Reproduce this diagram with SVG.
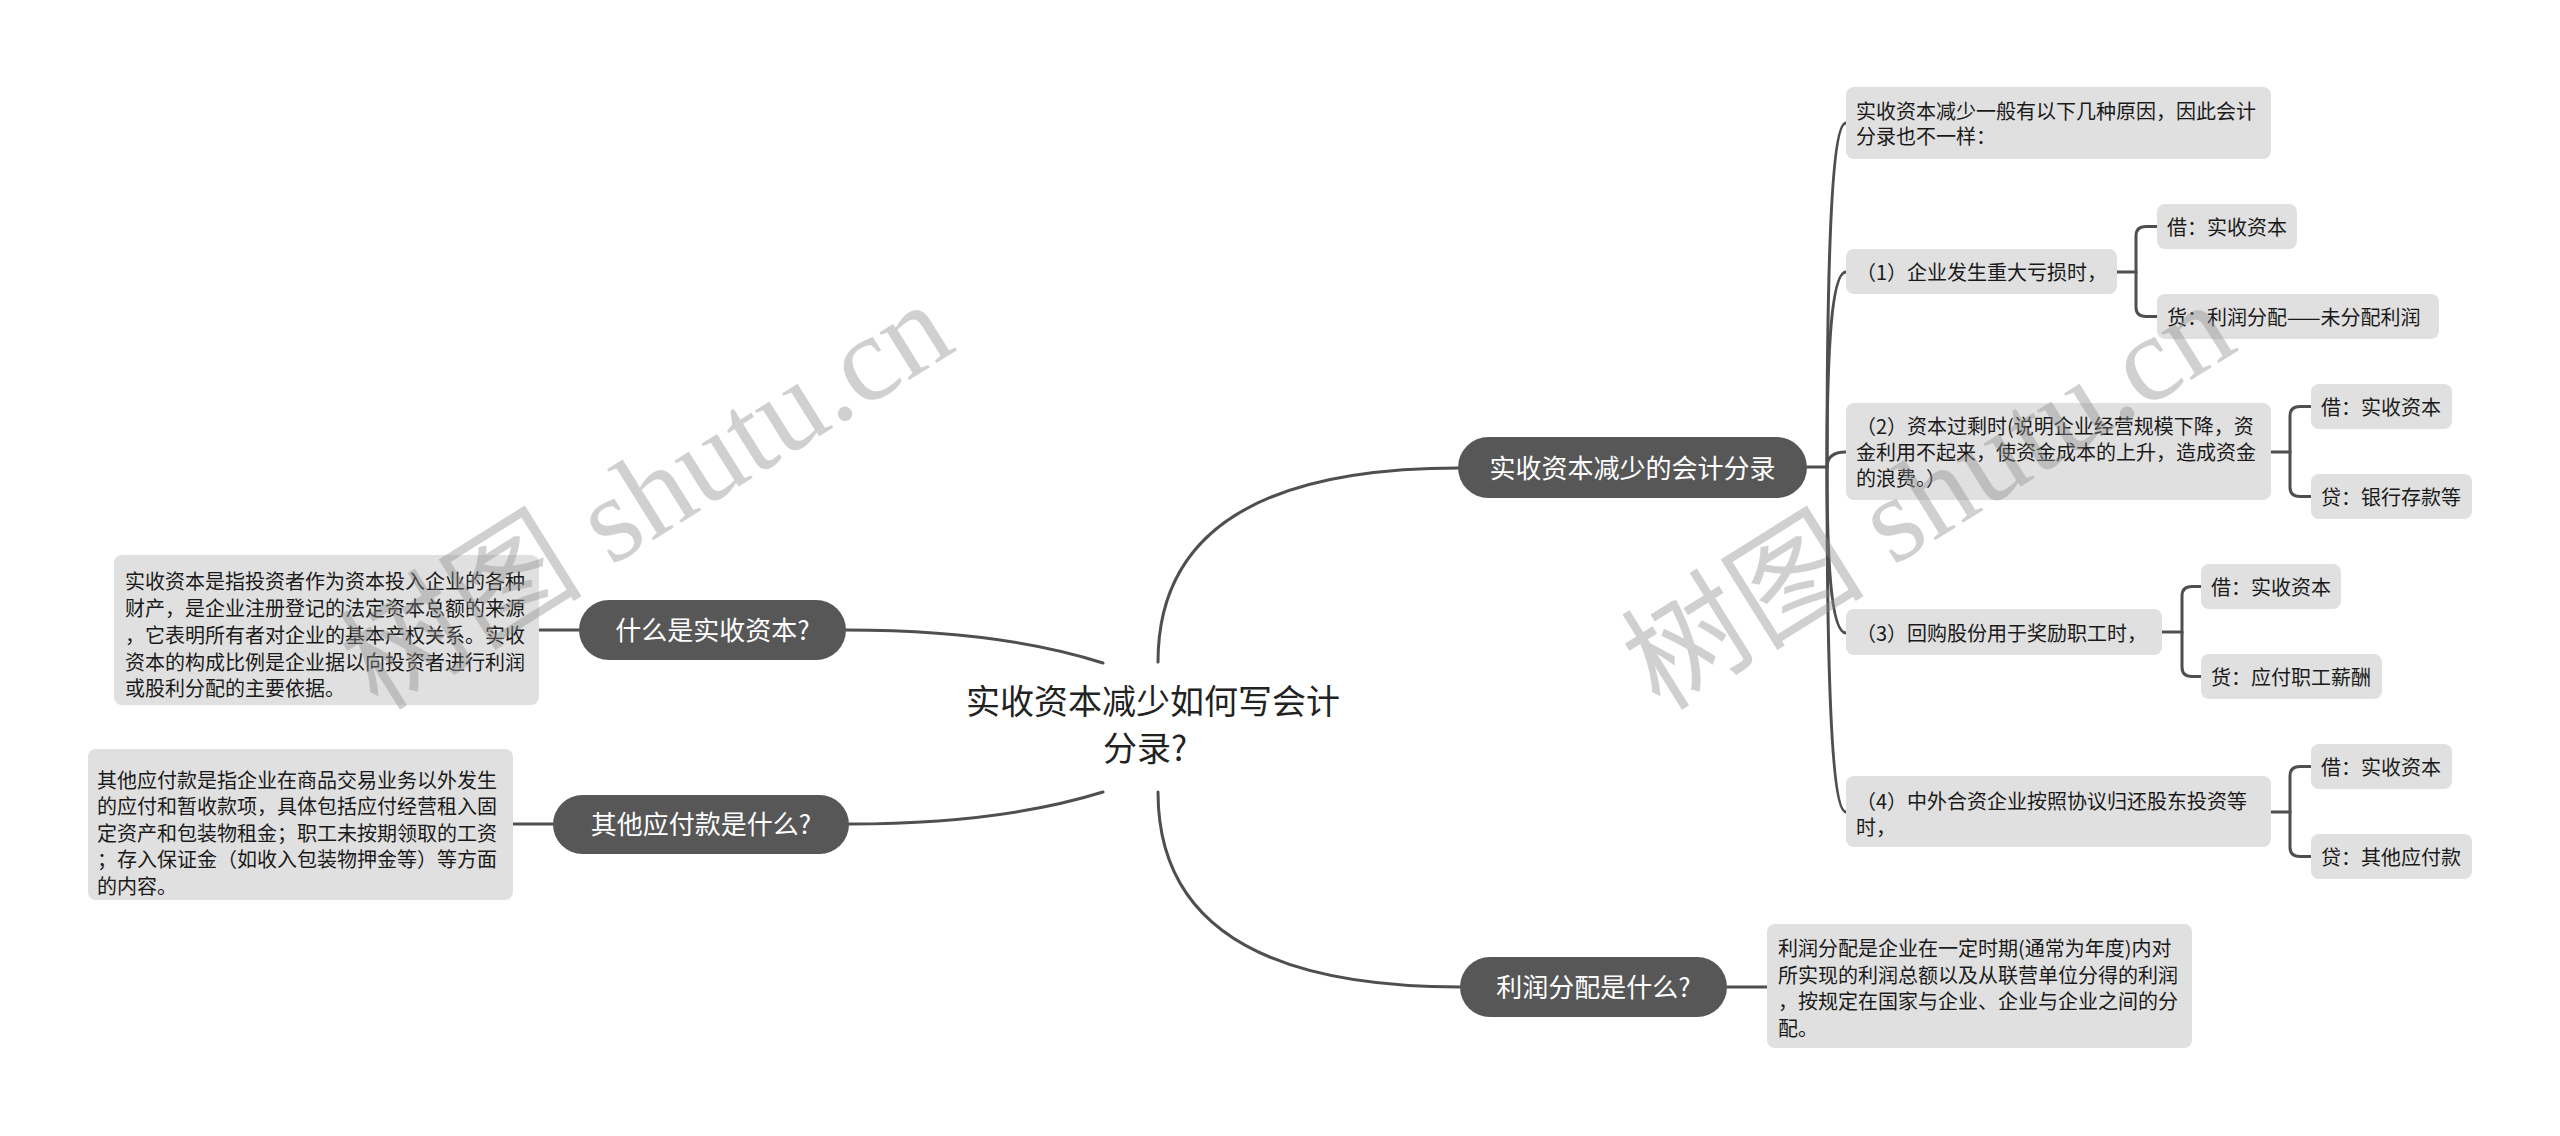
<svg xmlns="http://www.w3.org/2000/svg" width="2560" height="1136" viewBox="0 0 2560 1136">
<style>
.bg{fill:#ffffff}
.box{fill:#e0e0e0}
.pill{fill:#575757}
.t{font-family:"Noto Sans CJK SC","Noto Sans",sans-serif;font-size:20px;fill:#1a1a1a}
.pt{font-family:"Noto Sans CJK SC","Noto Sans",sans-serif;font-size:26px;fill:#ffffff;text-anchor:middle}
.ct{font-family:"Noto Sans CJK SC","Noto Sans",sans-serif;font-size:34px;fill:#222222;text-anchor:middle}
.ln{fill:none;stroke:#4f4f4f;stroke-width:3;stroke-linecap:round}
.wm{font-family:"Liberation Serif","Noto Sans CJK SC",serif;font-size:122px;fill:#8c8c8c;opacity:0.4}
</style>
<rect class="bg" x="0" y="0" width="2560" height="1136"/>

<g id="connectors">
  <path class="ln" d="M1158,662 Q1158,468 1459,468"/>
  <path class="ln" d="M1158,792 Q1158,987 1460,987"/>
  <path class="ln" d="M1103,663 Q1000,630 846,630"/>
  <path class="ln" d="M1103,792 Q1000,824 849,824"/>
  <path class="ln" d="M539,630 H579"/>
  <path class="ln" d="M513,824 H553"/>
  <path class="ln" d="M1727,987 H1767"/>
  <path class="ln" d="M1807,467 H1827"/>
  <path class="ln" d="M1827,467 C1827,295 1830,123 1846,123"/>
  <path class="ln" d="M1827,467 C1827,370 1830,272 1846,272"/>
  <path class="ln" d="M1827,467 C1827,460 1830,452 1846,452"/>
  <path class="ln" d="M1827,467 C1827,550 1830,633 1846,633"/>
  <path class="ln" d="M1827,467 C1827,640 1830,812 1846,812"/>
  <path class="ln" d="M2117,272 H2136 V236 Q2136,226.5 2146,226.5 H2157"/>
  <path class="ln" d="M2136,272 V307 Q2136,316.5 2146,316.5 H2157"/>
  <path class="ln" d="M2271,452 H2290 V416 Q2290,406.5 2300,406.5 H2311"/>
  <path class="ln" d="M2290,452 V487 Q2290,496.5 2300,496.5 H2311"/>
  <path class="ln" d="M2162,632 H2182 V596 Q2182,586.5 2192,586.5 H2201"/>
  <path class="ln" d="M2182,632 V667 Q2182,676.5 2192,676.5 H2201"/>
  <path class="ln" d="M2271,812 H2290 V776 Q2290,766.5 2300,766.5 H2311"/>
  <path class="ln" d="M2290,812 V847 Q2290,856.5 2300,856.5 H2311"/>
</g>

<g id="center">
  <text class="ct" x="1153" y="714">实收资本减少如何写会计</text>
  <text class="ct" x="1145" y="761">分录?</text>
</g>

<g id="n-main">
  <rect class="pill" x="1458" y="437" width="349" height="61" rx="30.5"/>
  <text class="pt" x="1632.5" y="478">实收资本减少的会计分录</text>
</g>

<g id="n-r0">
  <rect class="box" x="1846" y="87" width="425" height="72" rx="8"/>
  <text class="t" x="1856" y="119">实收资本减少一般有以下几种原因，因此会计</text>
  <text class="t" x="1856" y="144">分录也不一样：</text>
</g>

<g id="n-r1">
  <rect class="box" x="1846" y="249" width="271" height="45" rx="8"/>
  <text class="t" x="1856" y="280">（1）企业发生重大亏损时，</text>
</g>
<g id="n-r1a">
  <rect class="box" x="2157" y="204" width="140" height="45" rx="8"/>
  <text class="t" x="2167" y="235">借：实收资本</text>
</g>
<g id="n-r1b">
  <rect class="box" x="2157" y="294" width="282" height="45" rx="8"/>
  <text class="t" x="2167" y="325">货：利润分配——未分配利润</text>
</g>

<g id="n-r2">
  <rect class="box" x="1846" y="403" width="425" height="97" rx="8"/>
  <text class="t" x="1856" y="434">（2）资本过剩时(说明企业经营规模下降，资</text>
  <text class="t" x="1856" y="460">金利用不起来，使资金成本的上升，造成资金</text>
  <text class="t" x="1856" y="486">的浪费。）</text>
</g>
<g id="n-r2a">
  <rect class="box" x="2311" y="384" width="141" height="45" rx="8"/>
  <text class="t" x="2321" y="415">借：实收资本</text>
</g>
<g id="n-r2b">
  <rect class="box" x="2311" y="474" width="161" height="45" rx="8"/>
  <text class="t" x="2321" y="505">贷：银行存款等</text>
</g>

<g id="n-r3">
  <rect class="box" x="1846" y="609" width="316" height="46" rx="8"/>
  <text class="t" x="1856" y="641">（3）回购股份用于奖励职工时，</text>
</g>
<g id="n-r3a">
  <rect class="box" x="2201" y="564" width="140" height="45" rx="8"/>
  <text class="t" x="2211" y="595">借：实收资本</text>
</g>
<g id="n-r3b">
  <rect class="box" x="2201" y="654" width="181" height="45" rx="8"/>
  <text class="t" x="2211" y="685">货：应付职工薪酬</text>
</g>

<g id="n-r4">
  <rect class="box" x="1846" y="776" width="425" height="71" rx="8"/>
  <text class="t" x="1856" y="809">（4）中外合资企业按照协议归还股东投资等</text>
  <text class="t" x="1856" y="835">时，</text>
</g>
<g id="n-r4a">
  <rect class="box" x="2311" y="744" width="141" height="45" rx="8"/>
  <text class="t" x="2321" y="775">借：实收资本</text>
</g>
<g id="n-r4b">
  <rect class="box" x="2311" y="834" width="161" height="45" rx="8"/>
  <text class="t" x="2321" y="865">贷：其他应付款</text>
</g>

<g id="n-profit">
  <rect class="pill" x="1460" y="957" width="267" height="60" rx="30"/>
  <text class="pt" x="1593.5" y="997">利润分配是什么?</text>
</g>
<g id="n-profit-text">
  <rect class="box" x="1767" y="924" width="425" height="124" rx="8"/>
  <text class="t" x="1778" y="956">利润分配是企业在一定时期(通常为年度)内对</text>
  <text class="t" x="1778" y="983">所实现的利润总额以及从联营单位分得的利润</text>
  <text class="t" x="1778" y="1009">，按规定在国家与企业、企业与企业之间的分</text>
  <text class="t" x="1778" y="1036">配。</text>
</g>

<g id="n-capital">
  <rect class="pill" x="579" y="600" width="267" height="60" rx="30"/>
  <text class="pt" x="712.5" y="640">什么是实收资本?</text>
</g>
<g id="n-capital-text">
  <rect class="box" x="114" y="555" width="425" height="150" rx="8"/>
  <text class="t" x="125" y="589">实收资本是指投资者作为资本投入企业的各种</text>
  <text class="t" x="125" y="616">财产，是企业注册登记的法定资本总额的来源</text>
  <text class="t" x="125" y="643">，它表明所有者对企业的基本产权关系。实收</text>
  <text class="t" x="125" y="670">资本的构成比例是企业据以向投资者进行利润</text>
  <text class="t" x="125" y="696">或股利分配的主要依据。</text>
</g>

<g id="n-payable">
  <rect class="pill" x="553" y="795" width="296" height="59" rx="29.5"/>
  <text class="pt" x="701" y="834">其他应付款是什么?</text>
</g>
<g id="n-payable-text">
  <rect class="box" x="88" y="749" width="425" height="151" rx="8"/>
  <text class="t" x="97" y="788">其他应付款是指企业在商品交易业务以外发生</text>
  <text class="t" x="97" y="814">的应付和暂收款项，具体包括应付经营租入固</text>
  <text class="t" x="97" y="841">定资产和包装物租金；职工未按期领取的工资</text>
  <text class="t" x="97" y="867">；存入保证金（如收入包装物押金等）等方面</text>
  <text class="t" x="97" y="894">的内容。</text>
</g>

<g id="watermarks">
  <text class="wm" transform="translate(378,712) rotate(-32)">树图 shutu.cn</text>
  <text class="wm" transform="translate(1660,712) rotate(-32)">树图 shutu.cn</text>
</g>
</svg>
